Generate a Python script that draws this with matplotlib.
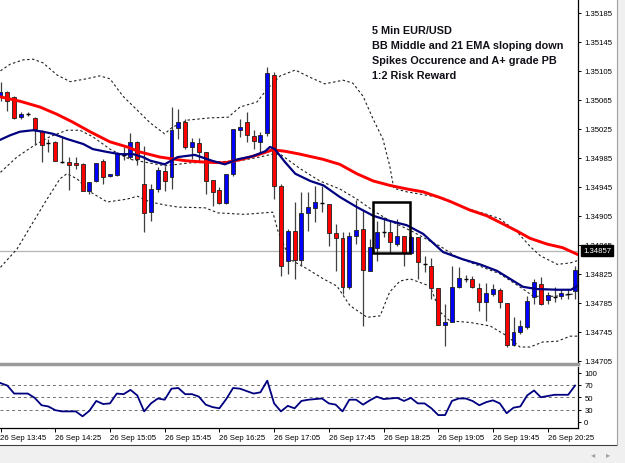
import matplotlib
matplotlib.use("Agg")
import matplotlib.pyplot as plt
import matplotlib.transforms as mtransforms
from matplotlib.patches import Rectangle
from matplotlib.lines import Line2D

plt.rcParams['font.family'] = ['Liberation Sans', 'DejaVu Sans']

# 5 min EUR/USD candles, 26 Sep 13:45 .. 20:45
opens = [1.35070, 1.35076, 1.35069, 1.35041, 1.35045, 1.35040, 1.35022, 1.35005, 1.35007, 1.34979,
         1.34979, 1.34978, 1.34976, 1.34939, 1.34953, 1.34981, 1.34960, 1.34961, 1.34989, 1.34986,
         1.35007, 1.34949, 1.34910, 1.34942, 1.34967, 1.34958, 1.35026, 1.35034, 1.35000, 1.35005,
         1.34993, 1.34954, 1.34941, 1.34923, 1.34963, 1.35023, 1.35034, 1.35015, 1.35007, 1.35019,
         1.35099, 1.34946, 1.34843, 1.34884, 1.34844, 1.34909, 1.34916, 1.34923, 1.34921, 1.34881,
         1.34874, 1.34807, 1.34877, 1.34887, 1.34829, 1.34861, 1.34883, 1.34883, 1.34866, 1.34877,
         1.34854, 1.34876, 1.34838, 1.34836, 1.34805, 1.34754, 1.34758, 1.34807, 1.34818, 1.34818,
         1.34805, 1.34786, 1.34797, 1.34803, 1.34785, 1.34727, 1.34745, 1.34752, 1.34793, 1.34811,
         1.34789, 1.34793, 1.34794, 1.34797, 1.34801]
highs = [1.35090, 1.35077, 1.35070, 1.35048, 1.35048, 1.35041, 1.35023, 1.35011, 1.35008, 1.35015,
         1.34986, 1.34986, 1.34978, 1.34952, 1.34978, 1.34983, 1.34963, 1.34993, 1.35000, 1.35019,
         1.35008, 1.35001, 1.34949, 1.34972, 1.34974, 1.35055, 1.35052, 1.35039, 1.35012, 1.35012,
         1.34993, 1.34954, 1.34945, 1.34963, 1.35025, 1.35039, 1.35048, 1.35023, 1.35021, 1.35110,
         1.35103, 1.34949, 1.34887, 1.34924, 1.34938, 1.34938, 1.34946, 1.34946, 1.34921, 1.34894,
         1.34883, 1.34883, 1.34927, 1.34912, 1.34873, 1.34898, 1.34903, 1.34898, 1.34901, 1.34877,
         1.34877, 1.34876, 1.34850, 1.34847, 1.34805, 1.34783, 1.34836, 1.34834, 1.34823, 1.34822,
         1.34812, 1.34812, 1.34811, 1.34805, 1.34785, 1.34765, 1.34761, 1.34794, 1.34818, 1.34821,
         1.34800, 1.34807, 1.34804, 1.34804, 1.34836]
lows = [1.35063, 1.35050, 1.35039, 1.35039, 1.35043, 1.35003, 1.34979, 1.34993, 1.34981, 1.34978,
        1.34941, 1.34970, 1.34939, 1.34935, 1.34952, 1.34949, 1.34958, 1.34960, 1.34982, 1.34983,
        1.34975, 1.34883, 1.34898, 1.34938, 1.34939, 1.34942, 1.35011, 1.34997, 1.34983, 1.34981,
        1.34935, 1.34918, 1.34921, 1.34921, 1.34960, 1.35014, 1.35007, 1.34997, 1.34993, 1.35015,
        1.34928, 1.34822, 1.34825, 1.34818, 1.34836, 1.34884, 1.34896, 1.34910, 1.34863, 1.34829,
        1.34797, 1.34804, 1.34866, 1.34753, 1.34829, 1.34843, 1.34876, 1.34854, 1.34863, 1.34836,
        1.34852, 1.34818, 1.34827, 1.34790, 1.34754, 1.34725, 1.34758, 1.34805, 1.34814, 1.34805,
        1.34774, 1.34760, 1.34794, 1.34778, 1.34724, 1.34725, 1.34742, 1.34749, 1.34783, 1.34782,
        1.34783, 1.34786, 1.34790, 1.34790, 1.34790]
closes = [1.35076, 1.35063, 1.35040, 1.35045, 1.35045, 1.35025, 1.35003, 1.35005, 1.34981, 1.34979,
          1.34975, 1.34975, 1.34939, 1.34952, 1.34978, 1.34958, 1.34963, 1.34992, 1.34989, 1.35007,
          1.34983, 1.34909, 1.34942, 1.34968, 1.34953, 1.35023, 1.35034, 1.35000, 1.35007, 1.34993,
          1.34953, 1.34938, 1.34923, 1.34963, 1.35025, 1.35027, 1.35016, 1.35008, 1.35016, 1.35102,
          1.34946, 1.34836, 1.34884, 1.34844, 1.34909, 1.34917, 1.34924, 1.34923, 1.34881, 1.34874,
          1.34807, 1.34877, 1.34885, 1.34830, 1.34862, 1.34883, 1.34883, 1.34869, 1.34877, 1.34854,
          1.34876, 1.34841, 1.34838, 1.34805, 1.34754, 1.34758, 1.34807, 1.34819, 1.34818, 1.34807,
          1.34786, 1.34798, 1.34804, 1.34786, 1.34727, 1.34745, 1.34753, 1.34787, 1.34814, 1.34783,
          1.34796, 1.34793, 1.34798, 1.34797, 1.34830]

# indicator lines (x = bar number)
ema_pos = [0, 2.85, 5.77, 8.26, 10.6, 13.08, 16.0, 18.5, 20.4, 23.3, 27.0, 29.9, 32.8, 35.3, 37.6,
           39.8, 41.6, 43.8, 47.1, 49.6, 52.1, 54.5, 56.9, 59.4, 61.8, 64.3, 65.7, 68.6, 71.1, 73.0,
           75.5, 77.4, 79.9, 82.2, 84.3]
ema_val = [1.35069, 1.35063, 1.35055, 1.35045, 1.35034, 1.35021, 1.35007, 1.35000, 1.34993, 1.34986,
           1.34981, 1.34979, 1.34978, 1.34983, 1.34989, 1.34996, 1.34994, 1.34990, 1.34983, 1.34976,
           1.34963, 1.34953, 1.34947, 1.34942, 1.34938, 1.34930, 1.34925, 1.34913, 1.34905, 1.34896,
           1.34884, 1.34874, 1.34866, 1.34861, 1.34852]
bbmid_pos = [0, 1.4, 2.85, 4.75, 6.2, 7.7, 9.7, 12.1, 13.5, 15.6, 17.5, 19.4, 20.8, 21.9, 24.0,
             25.9, 28.4, 30.9, 32.8, 34.7, 36.8, 38.7, 39.4, 40.1, 41.6, 43.1, 45.3, 47.2, 49.6, 52.1,
             54.5, 56.9, 59.4, 61.8, 64.7, 67.6, 70.1, 72.6, 74.5, 76.4, 78.4, 81.4, 83.4, 84.3]
bbmid_val = [1.35010, 1.35016, 1.35021, 1.35023, 1.35021, 1.35018, 1.35011, 1.35004, 1.34997, 1.34993,
             1.34990, 1.34990, 1.34986, 1.34981, 1.34976, 1.34986, 1.34989, 1.34981, 1.34976, 1.34983,
             1.34987, 1.34994, 1.35000, 1.34997, 1.34979, 1.34963, 1.34953, 1.34947, 1.34931, 1.34917,
             1.34905, 1.34898, 1.34892, 1.34880, 1.34855, 1.34845, 1.34838, 1.34829, 1.34818, 1.34807,
             1.34804, 1.34803, 1.34803, 1.34808]
upper_pos = [0, 1.4, 3.3, 4.75, 6.2, 8.3, 10.2, 12.6, 14.5, 16.0, 17.9, 19.96, 21.9, 24.0, 25.1,
             27.4, 30.6, 33.3, 35.0, 37.5, 39.0, 40.9, 43.1, 45.25, 47.4, 50.1, 51.5, 53.0, 54.5, 55.9,
             56.9, 57.5, 59.4, 63.8, 65.7, 68.6, 71.1, 73.0, 75.5, 77.4, 78.9, 81.4, 83.3, 84.3]
upper_val = [1.35105, 1.35114, 1.35120, 1.35121, 1.35116, 1.35099, 1.35090, 1.35094, 1.35098, 1.35094,
             1.35070, 1.35051, 1.35033, 1.35018, 1.35027, 1.35037, 1.35040, 1.35041, 1.35055, 1.35062,
             1.35080, 1.35098, 1.35106, 1.35096, 1.35087, 1.35092, 1.35088, 1.35070, 1.35038, 1.35011,
             1.34974, 1.34943, 1.34938, 1.34931, 1.34924, 1.34914, 1.34907, 1.34901, 1.34883, 1.34863,
             1.34850, 1.34838, 1.34840, 1.34843]
inner_pos = [0, 2.4, 4.75, 7.2, 9.7, 11.6, 13.5, 16.0, 18.9, 21.1, 24.05, 27.7, 30.9, 35.0, 37.9,
             39.7, 40.9, 43.8, 46.7, 49.6, 52.1, 54.5, 56.95, 60.3, 62.8, 64.3, 66.7, 70.5, 73.0, 76.4,
             77.9, 81.1, 83.7]
inner_val = [1.34965, 1.34986, 1.35001, 1.35014, 1.35023, 1.35023, 1.35014, 1.34997, 1.34983, 1.34979,
             1.34974, 1.34978, 1.34979, 1.34981, 1.34986, 1.34990, 1.34990, 1.34970, 1.34953, 1.34942,
             1.34928, 1.34912, 1.34898, 1.34883, 1.34870, 1.34863, 1.34848, 1.34834, 1.34825, 1.34804,
             1.34794, 1.34794, 1.34797]
lower_pos = [0, 2.4, 4.75, 6.8, 8.7, 9.7, 11.2, 13.1, 15.6, 18.5, 20.0, 21.9, 24.0, 25.95, 29.9,
             31.8, 35.7, 39.8, 40.6, 42.3, 44.8, 47.2, 49.2, 51.1, 53.6, 55.5, 56.9, 58.4, 59.9, 62.8,
             64.3, 65.7, 68.6, 71.6, 74.1, 75.95, 77.4, 79.3, 81.4, 83.3, 84.3]
lower_val = [1.34834, 1.34859, 1.34896, 1.34928, 1.34956, 1.34963, 1.34956, 1.34938, 1.34924, 1.34928,
             1.34932, 1.34924, 1.34920, 1.34917, 1.34916, 1.34909, 1.34907, 1.34910, 1.34883, 1.34845,
             1.34832, 1.34818, 1.34808, 1.34781, 1.34765, 1.34767, 1.34800, 1.34815, 1.34818, 1.34808,
             1.34772, 1.34760, 1.34758, 1.34753, 1.34739, 1.34724, 1.34724, 1.34731, 1.34732, 1.34739,
             1.34739]

# oscillator in the lower window (0..100 scale)
osc = [73, 69, 56, 56, 56, 49, 37, 35, 29, 27,
       27, 27, 19, 28, 44, 39, 40, 56, 55, 62,
       53, 27, 40, 48, 46, 64, 65, 55, 55, 51,
       38, 34, 32, 47, 65, 64, 60, 56, 58, 77,
       40, 27, 36, 32, 44, 46, 47, 48, 40, 38,
       27, 46, 46, 38, 45, 51, 47, 48, 49, 44,
       49, 40, 40, 32, 21, 21, 44, 48, 48, 44,
       37, 42, 45, 40, 24, 33, 35, 53, 61, 50,
       52, 54, 54, 54, 69]
osc_levels = [30, 50, 70]

time_labels = ['26 Sep 13:45', '26 Sep 14:25', '26 Sep 15:05', '26 Sep 15:45', '26 Sep 16:25',
               '26 Sep 17:05', '26 Sep 17:45', '26 Sep 18:25', '26 Sep 19:05', '26 Sep 19:45',
               '26 Sep 20:25']
price_ticks = [1.34705, 1.34745, 1.34785, 1.34825, 1.34865, 1.34905, 1.34945, 1.34985,
               1.35025, 1.35065, 1.35105, 1.35145, 1.35185]
bid = 1.34857
notes = ['5 Min EUR/USD', 'BB Middle and 21 EMA sloping down',
         'Spikes Occurence and A+ grade PB', '1:2 Risk Reward']
# pull-back box: bars 54.5..59.9, price 1.34854..1.34924
box_x0, box_x1 = 54.5, 59.9
box_lo, box_hi = 1.34854, 1.34924

W, H = 625, 464
fig = plt.figure(figsize=(W / 100, H / 100), dpi=100)
fig.patch.set_facecolor('white')

ax = fig.add_axes([0, 1 - 365 / H, 578 / W, 365 / H])
ax2 = fig.add_axes([0, 1 - 429 / H, 578 / W, 61.5 / H])

xlim = (-0.5 / 6.84, 577.5 / 6.84)
ax.set_xlim(*xlim)
ax.set_ylim(1.347006, 1.35204)

ax.axhline(bid, color='#b4b4b4', lw=0.9, zorder=1)

# candles
bw = 0.58
for i in range(len(opens)):
    o, h, l, c = opens[i], highs[i], lows[i], closes[i]
    ax.vlines(i, l, h, color='#404040', lw=0.9, zorder=3)
    if abs(c - o) < 0.00002:
        ax.hlines(o, i - bw / 2, i + bw / 2, color='black', lw=1.0, zorder=4)
    else:
        col = '#0000ff' if c > o else '#ff0000'
        ax.add_patch(Rectangle((i - bw / 2, min(o, c)), bw, abs(c - o),
                               facecolor=col, edgecolor='#202020', lw=0.6, zorder=4))

dash = (0, (2.2, 2.2))
ax.plot(upper_pos, upper_val, color='#202020', lw=0.8, ls=dash, zorder=2)
ax.plot(lower_pos, lower_val, color='#202020', lw=0.8, ls=dash, zorder=2)
ax.plot(inner_pos, inner_val, color='#202020', lw=0.8, ls=dash, zorder=2)
ax.plot(ema_pos, ema_val, color='#ff0000', lw=2.1, zorder=5)
ax.plot(bbmid_pos, bbmid_val, color='#000080', lw=1.6, zorder=5)

ax.add_patch(Rectangle((box_x0, box_lo), box_x1 - box_x0, box_hi - box_lo,
                       fill=False, edgecolor='black', lw=1.8, zorder=6))

for k, line in enumerate(notes):
    fig.text(372 / W, 1 - (30.5 + 15.3 * k) / H, line, fontsize=7.8, fontweight='bold',
             color='#101018', va='center', ha='left')

for s in ['left', 'top']:
    ax.spines[s].set_visible(False)
ax.spines['right'].set_color('black')
ax.spines['right'].set_linewidth(0.9)
ax.spines['bottom'].set_color('#9a9a9a')
ax.spines['bottom'].set_linewidth(2.5)
ax.set_xticks([])
ax.yaxis.tick_right()
ax.set_yticks(price_ticks)
ax.set_yticklabels(['%.5f' % p for p in price_ticks])
ax.tick_params(axis='y', direction='out', length=2.5, width=0.7, labelsize=5.6, pad=2)

trans = mtransforms.blended_transform_factory(ax.transAxes, ax.transData)
ax.text(1 + 5 / 578, bid, '%.5f' % bid, transform=trans, ha='left', va='center',
        fontsize=5.6, color='white', zorder=10, clip_on=False,
        bbox=dict(boxstyle='square,pad=0.25', fc='black', ec='black'))

# oscillator window: scale 0..100, the 0/100 labels sit just inside the edges
ax2.set_xlim(*xlim)
ax2.set_ylim(0, 100)
for lvl in osc_levels:
    ax2.axhline(lvl, color='#707070', lw=0.7, ls=(0, (3, 3)))
ax2.plot(range(len(osc)), osc, color='#000080', lw=1.3)
for s in ['left', 'top']:
    ax2.spines[s].set_visible(False)
ax2.spines['right'].set_linewidth(0.9)
ax2.spines['bottom'].set_linewidth(0.9)
ax2.yaxis.tick_right()
ax2.set_yticks([10, 30, 50, 70, 90])
ax2.set_yticklabels(['0', '30', '50', '70', '100'])
ax2.tick_params(axis='y', direction='out', length=2.5, width=0.7, labelsize=5.6, pad=2)
ax2.set_xticks([8 * k for k in range(len(time_labels))])
ax2.set_xticklabels(time_labels, ha='left')
ax2.tick_params(axis='x', direction='out', length=3, width=0.7, labelsize=5.6, pad=1.5)

# window frame bits
fig.add_artist(Rectangle((0, 0), 1, 18 / H, transform=fig.transFigure,
                         facecolor='#f0f0f0', edgecolor='none'))
fig.add_artist(Line2D([0, 617 / W], [1 - 446 / H, 1 - 446 / H], transform=fig.transFigure,
                      color='#404040', lw=0.8))
fig.add_artist(Rectangle((617 / W, 18 / H), 8 / W, 1 - 18 / H, transform=fig.transFigure,
                         facecolor='#f0f0f0', edgecolor='none'))
fig.add_artist(Line2D([617 / W, 617 / W], [1 - 446 / H, 1], transform=fig.transFigure,
                      color='#a0a0a0', lw=0.8))
fig.text(593 / W, 1 - 455 / H, '\u25c2', fontsize=6, color='#a0a0a0', ha='center', va='center',
         family='DejaVu Sans')
fig.text(608 / W, 1 - 455 / H, '\u25b8', fontsize=6, color='#a0a0a0', ha='center', va='center',
         family='DejaVu Sans')

fig.savefig('out.png', dpi=100)
